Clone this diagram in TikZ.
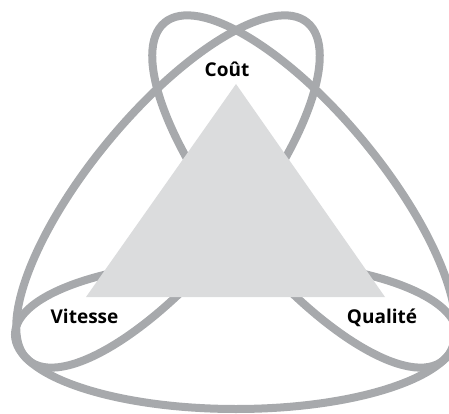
\documentclass[tikz,border=0pt]{standalone}
\usepackage{fontspec}
\setmainfont{Open Sans}
\definecolor{loopgray}{HTML}{A7A9AC}
\definecolor{trifill}{HTML}{DBDCDD}
\tikzset{
  loopline/.style={draw=loopgray, line width=8pt},
  lbl/.style={font=\bfseries\fontsize{19}{22}\selectfont, text=black, anchor=base, inner sep=0pt}
}
\begin{document}
\begin{tikzpicture}[x=1pt,y=-1pt]
\useasboundingbox (0,0) rectangle (449,414);
% bottom (horizontal) loop
\coordinate (c3) at (236,334.6);
\draw[loopline] (c3) ellipse [x radius=221pt, y radius=74.4pt];
% left loop (top-right cap to bottom-left tip)
\coordinate (c2) at (168,191.5);
\draw[loopline, rotate around={50.5:(c2)}] (c2) ellipse [x radius=219pt, y radius=78pt];
% right loop (top-left cap to bottom-right tip)
\coordinate (c1) at (304,191.5);
\draw[loopline, rotate around={-50.5:(c1)}] (c1) ellipse [x radius=219pt, y radius=78pt];
% triangle
\coordinate (top) at (236,84);
\coordinate (bl) at (86,297);
\coordinate (br) at (385,297);
\fill[trifill] (top) -- (bl) -- (br) -- cycle;
\node[lbl] (cout) at (227,77) {Coût};
\node[lbl] (vit) at (84.5,323) {Vitesse};
\node[lbl] (qual) at (382,323) {Qualité};
\end{tikzpicture}
\end{document}
